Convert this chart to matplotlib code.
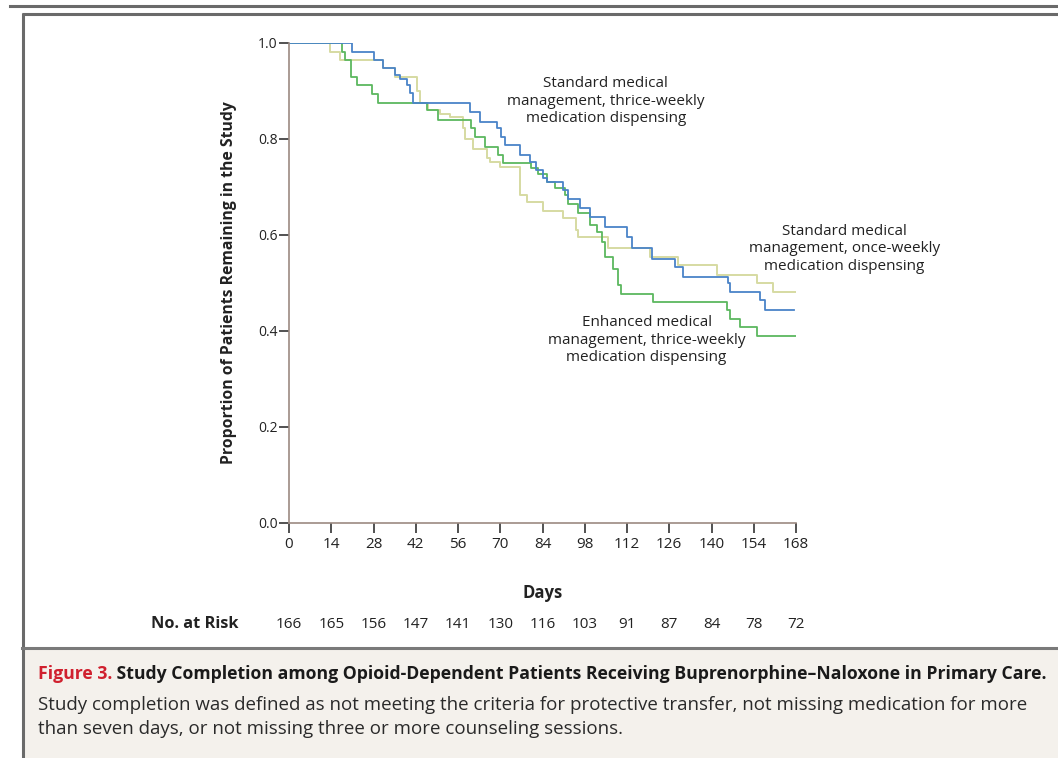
import matplotlib
matplotlib.use("Agg")
import matplotlib.pyplot as plt
from matplotlib.lines import Line2D
from matplotlib.patches import Rectangle
import matplotlib.transforms as mtransforms

# ---------------- data ----------------
days_ticks = [0, 14, 28, 42, 56, 70, 84, 98, 112, 126, 140, 154, 168]
at_risk = [166, 165, 156, 147, 141, 130, 116, 103, 91, 87, 84, 78, 72]
y_ticks = [0.0, 0.2, 0.4, 0.6, 0.8, 1.0]

# Standard medical management, thrice-weekly dispensing (blue)
blue_t = [0, 21, 28, 31.3, 35, 36.8, 39, 40, 41, 60, 63.3, 68.8, 70.4, 71.6, 76.5,
          79.9, 82, 84.3, 85.4, 90.9, 92.5, 96.4, 99.7, 104.7, 111.9, 113.5, 120.2,
          127.9, 130.7, 145.6, 146.2, 156, 157.7, 167.5]
blue_s = [1.0, 0.982, 0.965, 0.947, 0.934, 0.926, 0.912, 0.895, 0.874, 0.857, 0.836,
          0.822, 0.805, 0.788, 0.767, 0.753, 0.735, 0.718, 0.711, 0.694, 0.676, 0.656,
          0.638, 0.617, 0.596, 0.572, 0.551, 0.534, 0.513, 0.499, 0.482, 0.465, 0.444,
          0.444]

# Standard medical management, once-weekly dispensing (pale)
pale_t = [0, 13.6, 17, 31, 35, 42.5, 43.4, 46, 50, 53.3, 57.8, 58.3, 61, 65.5, 66.5,
          70, 76.5, 78.7, 84.3, 90.9, 95, 95.9, 105.8, 119.6, 129, 141.7, 155, 160.5,
          168]
pale_s = [1.0, 0.982, 0.965, 0.947, 0.93, 0.90, 0.874, 0.86, 0.853, 0.846, 0.822,
          0.80, 0.78, 0.76, 0.752, 0.742, 0.683, 0.669, 0.649, 0.635, 0.61, 0.596,
          0.572, 0.555, 0.537, 0.517, 0.499, 0.482, 0.482]

# Enhanced medical management, thrice-weekly dispensing (green)
green_t = [0, 17.5, 18.6, 20.5, 22.4, 27.4, 29.6, 45.6, 49.5, 60.3, 61.6, 65, 69.4,
           71, 80.2, 82.6, 85.4, 88.1, 91.5, 92.5, 95.9, 99.7, 102, 103.6, 104.7,
           107.5, 109, 110, 120.7, 145, 146, 149.4, 155, 168]
green_s = [1.0, 0.982, 0.965, 0.93, 0.912, 0.893, 0.875, 0.86, 0.84, 0.822, 0.805,
           0.784, 0.767, 0.749, 0.74, 0.728, 0.711, 0.697, 0.683, 0.665, 0.645, 0.621,
           0.607, 0.586, 0.555, 0.53, 0.496, 0.478, 0.461, 0.444, 0.426, 0.409, 0.39,
           0.39]

label_blue = "Standard medical\nmanagement, thrice-weekly\nmedication dispensing"
label_pale = "Standard medical\nmanagement, once-weekly\nmedication dispensing"
label_green = "Enhanced medical\nmanagement, thrice-weekly\nmedication dispensing"
ylabel = "Proportion of Patients Remaining in the Study"
xlabel = "Days"
risk_label = "No. at Risk"
cap_fig = "Figure 3."
cap_title = " Study Completion among Opioid-Dependent Patients Receiving Buprenorphine\u2013Naloxone in Primary Care."
cap_body1 = "Study completion was defined as not meeting the criteria for protective transfer, not missing medication for more"
cap_body2 = "than seven days, or not missing three or more counseling sessions."

# ---------------- figure ----------------
W, H = 1058, 758
plt.rcParams['font.family'] = ['Open Sans', 'DejaVu Sans']
fig = plt.figure(figsize=(W / 100, H / 100), dpi=100)
fig.patch.set_facecolor('white')

def fx(px):
    return px / W

def fy(py):
    return 1 - py / H

SANS = ['Open Sans', 'DejaVu Sans']
TXT = '#222222'

# frame decorations
fig.add_artist(Rectangle((fx(23), 0), 1 - fx(23), fy(649), transform=fig.transFigure,
                         facecolor='#f4f1ec', edgecolor='none', zorder=0))
fig.add_artist(Line2D([fx(10), 1], [fy(6), fy(6)], transform=fig.transFigure,
                      color='#6a6a6a', lw=2.2))
fig.add_artist(Line2D([fx(21.7), 1], [fy(13.5), fy(13.5)], transform=fig.transFigure,
                      color='#6a6a6a', lw=2.2, solid_capstyle='butt'))
fig.add_artist(Line2D([fx(22.5), fx(22.5)], [fy(12.7), 0], transform=fig.transFigure,
                      color='#6a6a6a', lw=2.2, solid_capstyle='butt'))
fig.add_artist(Line2D([fx(22), 1], [fy(648), fy(648)], transform=fig.transFigure,
                      color='#7a7a7a', lw=2.2))

ax = fig.add_axes([fx(289), fy(523), fx(796) - fx(289), (523 - 43) / H])
ax.set_facecolor('none')

ax.step(pale_t, pale_s, where='post', color='#d6dba2', lw=1.4, zorder=3)
ax.step(green_t, green_s, where='post', color='#5cb85f', lw=1.3, zorder=4)
ax.step(blue_t, blue_s, where='post', color='#4a84c8', lw=1.3, zorder=5)

ax.set_xlim(0, 168)
ax.set_ylim(0, 1.0)
for s in ['top', 'right']:
    ax.spines[s].set_visible(False)
for s in ['left', 'bottom']:
    ax.spines[s].set_color('#9c8a82')
    ax.spines[s].set_linewidth(1.2)
    ax.spines[s].set_zorder(6)
ax.set_xticks(days_ticks)
ax.set_xticklabels([str(d) for d in days_ticks], family=SANS, fontsize=11)
ax.set_yticks(y_ticks)
ax.set_yticklabels([f"{v:.1f}" for v in y_ticks], family=SANS, fontsize=10)
ax.tick_params(axis='both', direction='out', length=7, width=1.1, color=TXT,
               pad=3, labelcolor=TXT)
ax.tick_params(axis='y', pad=1)
for lab in ax.get_xticklabels() + ax.get_yticklabels():
    lab.set_clip_on(False)

# annotations
ax.text(105, 0.879, label_blue, transform=ax.transData, ha='center', va='center',
        fontsize=11, family=SANS, color=TXT, linespacing=1.2)
ax.text(184, 0.571, label_pale, transform=ax.transData, ha='center', va='center',
        fontsize=11, family=SANS, color=TXT, linespacing=1.2)
ax.text(118.5, 0.381, label_green, transform=ax.transData, ha='center', va='center',
        fontsize=11, family=SANS, color=TXT, linespacing=1.2)

# axis labels
fig.text(fx(229), fy(283), ylabel, rotation=90, ha='center', va='center',
         fontsize=11.3, fontweight='bold', family=SANS, color=TXT)
fig.text(fx(543), fy(593), xlabel, ha='center', va='center',
         fontsize=12, fontweight='bold', family=SANS, color=TXT)
fig.text(fx(195), fy(624), risk_label, ha='center', va='center',
         fontsize=11.8, fontweight='bold', family=SANS, color=TXT)
risk_tr = mtransforms.blended_transform_factory(ax.transData, fig.transFigure)
for d, n in zip(days_ticks, at_risk):
    ax.text(d, fy(624), str(n), transform=risk_tr, ha='center', va='center',
            fontsize=11, family=SANS, color=TXT, clip_on=False)

# caption
fig.canvas.draw()
r = fig.canvas.get_renderer()

t1 = fig.text(fx(38), fy(674), cap_fig, ha='left', va='center', fontsize=14,
              fontweight='bold', family=SANS, color='#d0202e')
t2 = fig.text(fx(38), fy(674), cap_title, ha='left', va='center', fontsize=14,
              fontweight='bold', family=SANS, color='#1a1a1a')
fig.canvas.draw()
w1 = t1.get_window_extent(renderer=r).width
w2 = t2.get_window_extent(renderer=r).width
scale = (1050 - 38) / (w1 + w2)
t1.set_fontsize(14 * scale)
t2.set_fontsize(14 * scale)
fig.canvas.draw()
w1 = t1.get_window_extent(renderer=r).width
t2.set_x(fx(38 + w1))

b1 = fig.text(fx(38), fy(705), cap_body1, ha='left', va='center', fontsize=14,
              family=SANS, color='#2a2a2a')
fig.canvas.draw()
bw = b1.get_window_extent(renderer=r).width
b1.set_fontsize(14 * (1032 - 38) / bw)
b2 = fig.text(fx(38), fy(729), cap_body2, ha='left', va='center',
              fontsize=b1.get_fontsize(), family=SANS, color='#2a2a2a')

fig.savefig('out.png', dpi=100, facecolor=fig.get_facecolor())
